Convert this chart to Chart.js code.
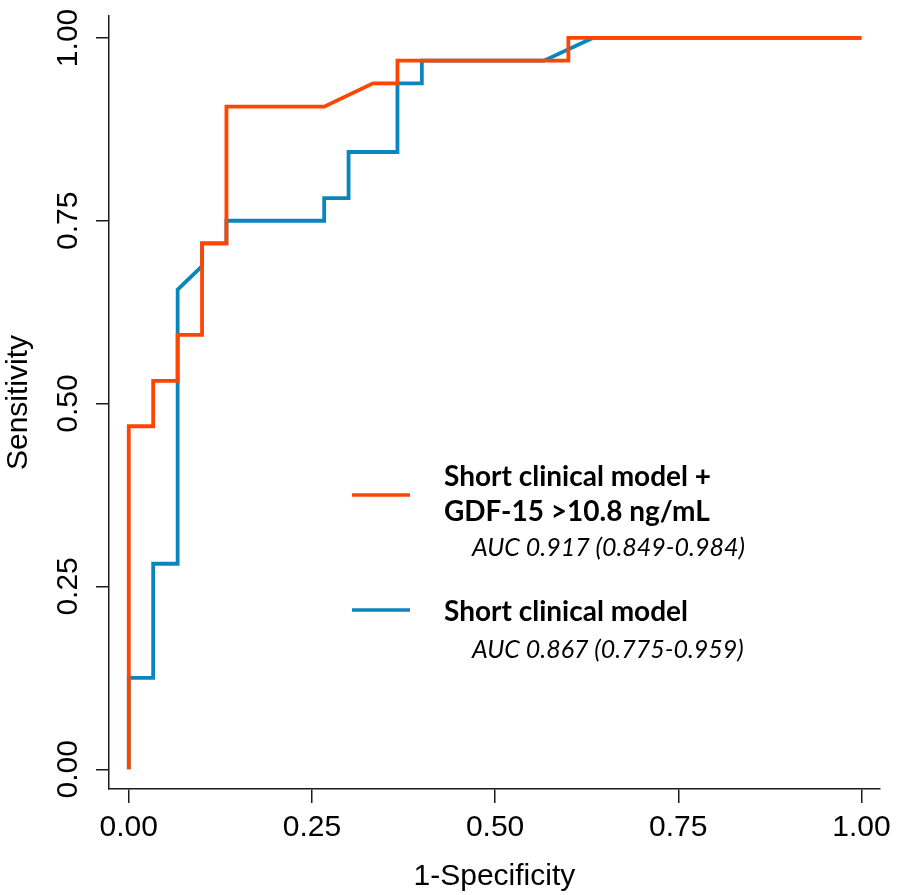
<!DOCTYPE html>
<html>
<head>
<meta charset="utf-8">
<script src="https://cdn.jsdelivr.net/npm/chart.js@4.4.1/dist/chart.umd.min.js"></script>
<style>
  html, body { margin: 0; padding: 0; background: #fff; }
  #wrap { width: 898px; height: 895px; }
</style>
</head>
<body>
<div id="wrap"><canvas id="roc"></canvas></div>
<script>
// ROC curve points: 1-specificity (x) and sensitivity (y)
const comboFpr = [0, 0, 0.0333, 0.0333, 0.0667, 0.0667, 0.1, 0.1, 0.1333, 0.1333, 0.2667, 0.3333, 0.3667, 0.3667, 0.6, 0.6, 1];
const comboTpr = [0, 0.469, 0.469, 0.531, 0.531, 0.594, 0.594, 0.719, 0.719, 0.906, 0.906, 0.938, 0.938, 0.969, 0.969, 1, 1];

const shortFpr = [0, 0, 0.0333, 0.0333, 0.0667, 0.0667, 0.1, 0.1, 0.1333, 0.1333, 0.2667, 0.2667, 0.3, 0.3, 0.3667, 0.3667, 0.4, 0.4, 0.5667, 0.6333, 1];
const shortTpr = [0, 0.125, 0.125, 0.281, 0.281, 0.656, 0.688, 0.719, 0.719, 0.75, 0.75, 0.781, 0.781, 0.844, 0.844, 0.938, 0.938, 0.969, 0.969, 1, 1];

const axisTicks = [0, 0.25, 0.5, 0.75, 1];

const seriesNames = [['Short clinical model +', 'GDF-15 >10.8 ng/mL'], ['Short clinical model']];
const aucLabels = ['AUC 0.917 (0.849-0.984)', 'AUC 0.867 (0.775-0.959)'];
const seriesColors = ['#ff4500', '#0a86bf'];

const toPoints = (xs, ys) => xs.map((x, i) => ({ x, y: ys[i] }));
const tickFont = { family: "'Liberation Sans', Arial, sans-serif", size: 30 };
const axisColor = '#1a1a1a';

// Legend drawn inside the plot, like the original figure
const rocLegend = {
  id: 'rocLegend',
  afterDraw(chart) {
    const { ctx } = chart;
    const items = [
      { lineY: 495, textY: [486, 521], aucY: 556 },
      { lineY: 610, textY: [621], aucY: 658 },
    ];
    ctx.save();
    items.forEach((it, i) => {
      ctx.strokeStyle = seriesColors[i];
      ctx.lineWidth = 3.5;
      ctx.beginPath();
      ctx.moveTo(352, it.lineY);
      ctx.lineTo(410, it.lineY);
      ctx.stroke();

      ctx.fillStyle = '#000';
      ctx.textBaseline = 'alphabetic';
      ctx.textAlign = 'left';
      ctx.font = "bold 28px Lato, 'Open Sans', sans-serif";
      seriesNames[i].forEach((line, j) => ctx.fillText(line, 444, it.textY[j]));
      ctx.font = "italic 25px Lato, 'Open Sans', sans-serif";
      ctx.fillText(aucLabels[i], 472, it.aucY);
    });
    ctx.restore();
  },
};

const chart = new Chart(document.getElementById('roc'), {
  type: 'scatter',
  data: {
    datasets: [
      {
        label: seriesNames[0].join(' '),
        data: toPoints(comboFpr, comboTpr),
        showLine: true,
        borderColor: seriesColors[0],
        borderWidth: 3.8,
        pointRadius: 0,
        tension: 0,
      },
      {
        label: seriesNames[1].join(' '),
        data: toPoints(shortFpr, shortTpr),
        showLine: true,
        borderColor: seriesColors[1],
        borderWidth: 3.8,
        pointRadius: 0,
        tension: 0,
      },
    ],
  },
  options: {
    responsive: true,
    maintainAspectRatio: false,
    animation: false,
    layout: {
      padding: { top: 13, right: 16, bottom: 0, left: 0 },
    },
    scales: {
      x: {
        type: 'linear',
        min: -0.027,
        max: 1.025,
        afterBuildTicks: (scale) => { scale.ticks = axisTicks.map((v) => ({ value: v })); },
        afterFit: (scale) => { scale.height = 106; },
        grid: { drawOnChartArea: false, drawTicks: true, tickLength: 14, color: axisColor, lineWidth: 1.5 },
        border: { display: true, color: axisColor, width: 1.5 },
        ticks: {
          font: tickFont,
          color: '#000',
          padding: 7,
          maxRotation: 0,
          callback: (v) => v.toFixed(2),
        },
        title: {
          display: true,
          text: '1-Specificity',
          font: tickFont,
          color: '#000',
          padding: { top: 0, bottom: 0 },
        },
      },
      y: {
        type: 'linear',
        min: -0.027,
        max: 1.03,
        afterBuildTicks: (scale) => { scale.ticks = axisTicks.map((v) => ({ value: v })); },
        afterFit: (scale) => { scale.width = 109; },
        grid: { drawOnChartArea: false, drawTicks: true, tickLength: 13, color: axisColor, lineWidth: 1.5 },
        border: { display: true, color: axisColor, width: 1.5 },
        ticks: {
          font: tickFont,
          color: '#000',
          minRotation: 90,
          maxRotation: 90,
          crossAlign: 'center',
          padding: -2,
          callback: (v) => v.toFixed(2),
        },
        title: {
          display: true,
          text: 'Sensitivity',
          font: tickFont,
          color: '#000',
          padding: { top: 1, bottom: 0 },
        },
      },
    },
    plugins: {
      legend: { display: false },
      tooltip: { enabled: false },
    },
  },
  plugins: [rocLegend],
});
</script>
</body>
</html>
